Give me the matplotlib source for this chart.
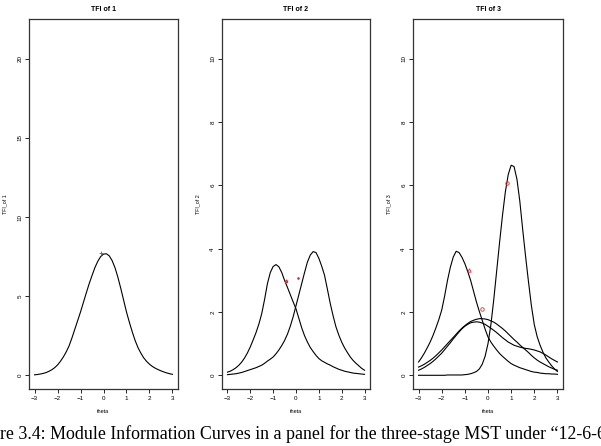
import matplotlib
matplotlib.use('Agg')
import matplotlib.pyplot as plt

plt.rcParams['font.family'] = ['Liberation Sans', 'DejaVu Sans']

# theta grid, values read at 0.125 steps from -3 to 3
theta = [-3 + 0.125 * i for i in range(49)]

# stage 1 module
tfi1_m1 = [0.03, 0.05, 0.08, 0.12, 0.17, 0.25, 0.35, 0.48, 0.65, 0.88, 1.15, 1.47,
           1.85, 2.35, 2.9, 3.45, 4.0, 4.6, 5.2, 5.78, 6.3, 6.8, 7.2, 7.5,
           7.66, 7.68, 7.55, 7.25, 6.8, 6.2, 5.5, 4.75, 4.0, 3.35, 2.75, 2.2,
           1.75, 1.4, 1.1, 0.88, 0.7, 0.56, 0.45, 0.36, 0.28, 0.21, 0.15, 0.1, 0.06]

# stage 2 modules
tfi2_easy = [0.1, 0.13, 0.18, 0.24, 0.32, 0.42, 0.55, 0.71, 0.9, 1.12, 1.35, 1.62,
             1.95, 2.4, 2.9, 3.25, 3.44, 3.5, 3.43, 3.25, 3.0, 2.78, 2.55, 2.32,
             2.1, 1.8, 1.5, 1.25, 1.05, 0.88, 0.75, 0.63, 0.53, 0.46, 0.41, 0.36,
             0.32, 0.27, 0.23, 0.19, 0.16, 0.13, 0.11, 0.09, 0.07, 0.06, 0.05, 0.04, 0.03]
tfi2_hard = [0.02, 0.03, 0.04, 0.05, 0.07, 0.09, 0.12, 0.15, 0.18, 0.21, 0.24, 0.28,
             0.32, 0.38, 0.45, 0.51, 0.58, 0.68, 0.8, 0.94, 1.1, 1.3, 1.55, 1.85,
             2.2, 2.55, 2.9, 3.25, 3.58, 3.8, 3.91, 3.88, 3.7, 3.45, 3.16, 2.72,
             2.27, 1.88, 1.53, 1.27, 1.05, 0.87, 0.72, 0.58, 0.47, 0.38, 0.3, 0.22, 0.16]

# stage 3 modules
tfi3_easy = [0.42, 0.55, 0.7, 0.87, 1.05, 1.26, 1.5, 1.76, 2.06, 2.5, 3.0, 3.42,
             3.74, 3.92, 3.88, 3.73, 3.53, 3.28, 3.0, 2.66, 2.32, 2.02, 1.74, 1.46,
             1.21, 1.05, 0.92, 0.8, 0.69, 0.6, 0.52, 0.44, 0.37, 0.32, 0.28, 0.24,
             0.21, 0.18, 0.15, 0.12, 0.1, 0.09, 0.07, 0.06, 0.05, 0.05, 0.04, 0.04, 0.03]
tfi3_medA = [0.26, 0.3, 0.35, 0.41, 0.47, 0.54, 0.62, 0.71, 0.8, 0.9, 1.0, 1.1,
             1.2, 1.3, 1.4, 1.49, 1.57, 1.64, 1.7, 1.74, 1.77, 1.79, 1.79, 1.78,
             1.76, 1.72, 1.68, 1.62, 1.55, 1.48, 1.4, 1.31, 1.22, 1.13, 1.05, 0.96,
             0.88, 0.8, 0.72, 0.63, 0.55, 0.48, 0.42, 0.37, 0.32, 0.27, 0.23, 0.19, 0.16]
tfi3_medB = [0.16, 0.2, 0.25, 0.31, 0.37, 0.44, 0.52, 0.61, 0.7, 0.81, 0.92, 1.03,
             1.15, 1.26, 1.37, 1.47, 1.55, 1.61, 1.66, 1.68, 1.69, 1.68, 1.65, 1.61,
             1.55, 1.49, 1.42, 1.35, 1.27, 1.19, 1.12, 1.05, 1.0, 0.95, 0.92, 0.89,
             0.87, 0.85, 0.84, 0.82, 0.8, 0.77, 0.74, 0.69, 0.64, 0.58, 0.52, 0.47, 0.42]
tfi3_hard = [0.0, 0.0, 0.0, 0.0, 0.0, 0.0, 0.0, 0.0, 0.0, 0.0, 0.01, 0.01,
             0.01, 0.01, 0.01, 0.01, 0.02, 0.03, 0.05, 0.08, 0.12, 0.2, 0.35, 0.6,
             1.0, 1.6, 2.4, 3.3, 4.2, 5.05, 5.8, 6.35, 6.64, 6.6, 6.2, 5.5,
             4.6, 3.75, 2.95, 2.2, 1.6, 1.22, 0.95, 0.73, 0.55, 0.42, 0.3, 0.2, 0.12]

# red target points: (theta, info, marker)
targets1 = [(-0.12, 7.7, '+')]
targets2 = [(-0.45, 2.98, '*'), (0.07, 3.08, '.')]
targets3 = [(0.8, 6.08, 'o'), (-0.84, 3.34, '^'), (-0.27, 2.11, 'o')]

panels = [
    ('TFI of 1', 'TFI_of 1', [tfi1_m1], targets1, 21.65, [0, 5, 10, 15, 20]),
    ('TFI of 2', 'TFI_of 2', [tfi2_easy, tfi2_hard], targets2, 10.83, [0, 2, 4, 6, 8, 10]),
    ('TFI of 3', 'TFI_of 3', [tfi3_easy, tfi3_medA, tfi3_medB, tfi3_hard], targets3, 10.83,
     [0, 2, 4, 6, 8, 10]),
]
lefts = [29, 222, 413]
widths = [149, 148, 150]

W, H = 601, 446
fig = plt.figure(figsize=(W / 100, H / 100), dpi=100)

for (title, ylab, curves, targets, ymax, yticks), l, w in zip(panels, lefts, widths):
    ax = fig.add_axes([l / W, 1 - 389 / H, w / W, 370 / H])
    for c in curves:
        ax.plot(theta, c, color='black', lw=0.8)
    for tx, ty, m in targets:
        ax.plot(tx, ty, marker=m, color='#e03030', ms=2.5, mew=0.6,
                mfc='none' if m in ('o', '^') else '#e03030', ls='none')
    ax.set_xlim(-3.24, 3.24)
    ax.set_ylim(-0.04 * ymax, 1.04 * ymax)
    ax.set_xticks(range(-3, 4))
    ax.set_yticks(yticks)
    ax.tick_params(labelsize=4.5, length=2.8, width=0.6, pad=2)
    for lab in ax.get_yticklabels():
        lab.set_rotation(90)
        lab.set_va('center')
    for s in ax.spines.values():
        s.set_linewidth(0.9)
        s.set_color('#333333')
    ax.set_title(title, fontsize=5, fontweight='bold', pad=6)
    ax.set_xlabel('theta', fontsize=4, labelpad=6)
    ax.set_ylabel(ylab, fontsize=3.8, labelpad=7)

fig.text(0.0, 1 - 434 / H,
         're 3.4: Module Information Curves in a panel for the three-stage MST under \u201c12-6-6\u201d',
         fontsize=12.9, family=['Liberation Serif', 'DejaVu Serif'], va='center', ha='left')

fig.savefig('out.png', dpi=100)
